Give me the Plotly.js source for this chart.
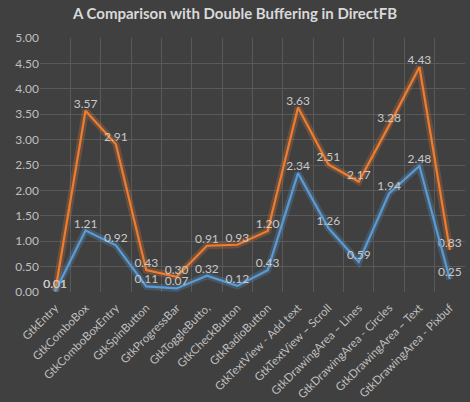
<!DOCTYPE html>
<html><head><meta charset="utf-8">
<script src="https://cdn.plot.ly/plotly-3.0.1.min.js"></script>
<style>html,body{margin:0;padding:0;background:#404040;}</style>
</head><body>
<div id="chart" style="width:470px;height:402px;"></div>
<script>
const categories = ["GtkEntry","GtkComboBox","GtkComboBoxEntry","GtkSpinButton","GtkProgressBar","GtkToggleButto,","GtkCheckButton","GtkRadioButton","GtkTextView - Add text","GtkTextView – Scroll","GtkDrawingArea – Lines","GtkDrawingArea - Circles","GtkDrawingArea – Text","GtkDrawingArea - Pixbuf"];
const orangeValues = [0.01,3.57,2.91,0.43,0.30,0.91,0.93,1.20,3.63,2.51,2.17,3.28,4.43,0.83];
const blueValues = [0.01,1.21,0.92,0.11,0.07,0.32,0.12,0.43,2.34,1.26,0.59,1.94,2.48,0.25];

const orange = "#ED7D31", blue = "#5B9BD5";
function glow(y, c){ return {x:categories,y:y,type:"scatter",mode:"lines",line:{color:c,width:7},opacity:0.25,hoverinfo:"skip",showlegend:false}; }
function main(y, c){ return {x:categories,y:y,type:"scatter",mode:"lines+text",line:{color:c,width:2.2},
  text:y.map(v=>v.toFixed(2)),textposition:"top center",textfont:{family:"Lato, sans-serif",size:12,color:"#c8c8c8"},showlegend:false,cliponaxis:false}; }

const data = [glow(orangeValues,orange), glow(blueValues,blue), main(orangeValues,orange), main(blueValues,blue)];
const layout = {
  width:470,height:402,
  paper_bgcolor:"#404040",plot_bgcolor:"#404040",
  margin:{l:40,r:5,t:38,b:110},
  title:{text:"<b>A Comparison with Double Buffering in DirectFB</b>",font:{family:"Lato, sans-serif",size:15,color:"#d9d9d9"},x:0.5,xanchor:"center",y:0.965,yanchor:"middle"},
  xaxis:{type:"category",range:[-0.5,13.5],tickson:"boundaries",showgrid:true,gridcolor:"#595959",gridwidth:1,ticks:"",
    tickangle:-45,ticklabelstandoff:6,tickfont:{family:"Lato, sans-serif",size:11.5,color:"#bfbfbf"},showline:false,zeroline:false},
  yaxis:{range:[0,5],dtick:0.5,tickformat:".2f",showgrid:true,gridcolor:"#595959",gridwidth:1,zeroline:false,
    tickfont:{family:"Lato, sans-serif",size:12,color:"#bfbfbf"},ticks:"",showline:false},
  showlegend:false
};
Plotly.newPlot("chart",data,layout,{displayModeBar:false,staticPlot:true});
</script>
</body></html>
